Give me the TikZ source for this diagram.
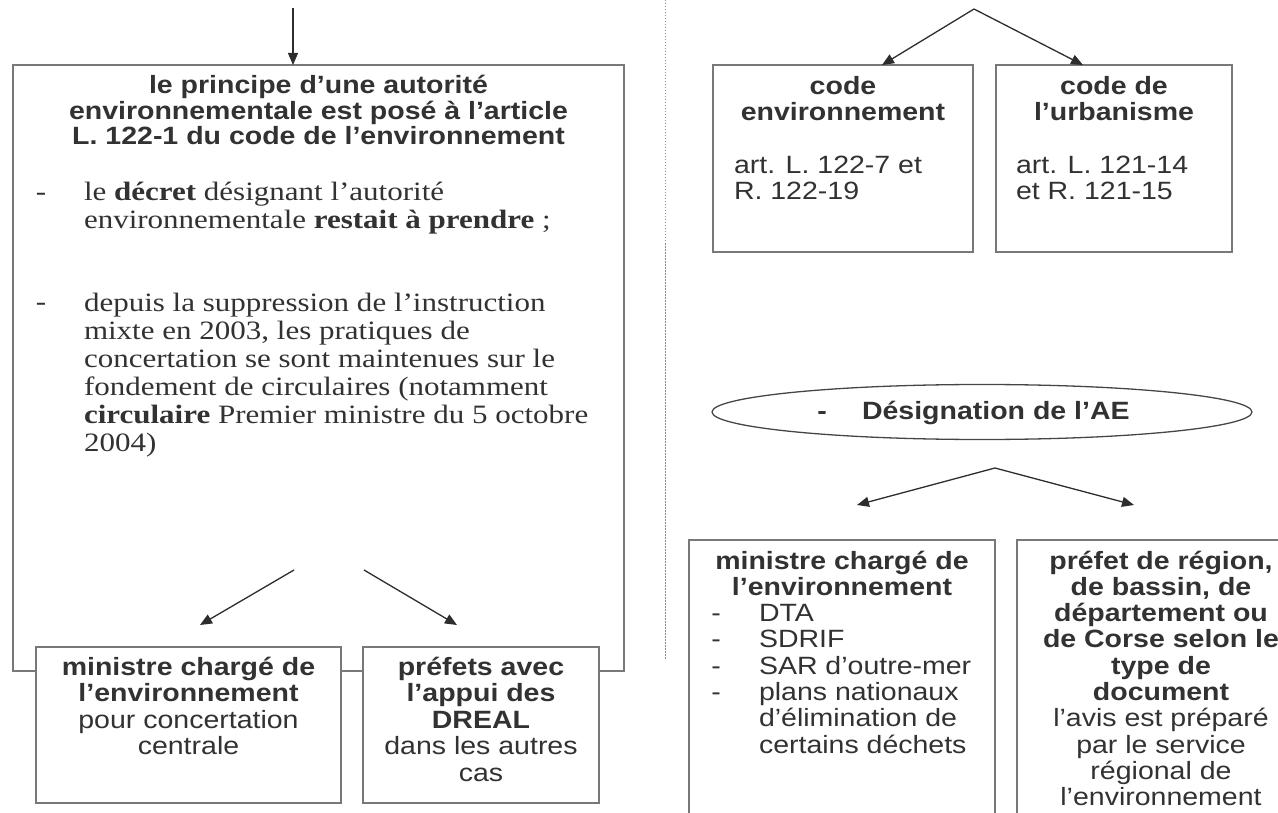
\documentclass[tikz,border=0pt]{standalone}
\usepackage{fontspec}
\setmainfont{Liberation Serif}[FakeStretch=1.17]
\setsansfont{Liberation Sans}[FakeStretch=1.14]
\usetikzlibrary{arrows.meta,shapes.geometric}
\definecolor{txt}{RGB}{50,50,50}
\definecolor{boxc}{RGB}{120,120,120}
\definecolor{arrc}{RGB}{45,45,45}
\definecolor{ellc}{RGB}{70,70,70}
\definecolor{divc}{RGB}{140,140,140}
\newcommand{\myst}{\rule{0pt}{20pt}}
\begin{document}
\begin{tikzpicture}[x=1pt,y=-1pt,
  every node/.style={inner sep=0pt, outer sep=0pt, text=txt},
  boxst/.style={draw=boxc, line width=1.7pt, fill=white, rectangle, anchor=north west},
  arr/.style={draw=arrc, line width=1.3pt, -{Triangle[length=12pt,width=10pt]}},
  hd/.style={font=\sffamily\bfseries\fontsize{25}{25.5}\selectfont, align=center, anchor=north},
  sfc/.style={font=\sffamily\fontsize{25}{26.5}\selectfont, align=center, anchor=north},
  sfr/.style={font=\sffamily\fontsize{25}{26.3}\selectfont, align=center, anchor=north},
  sfl/.style={font=\sffamily\fontsize{25}{26}\selectfont, align=left, anchor=north west},
  sfb/.style={font=\sffamily\bfseries\fontsize{25}{25.5}\selectfont, align=center, anchor=north},
  serif/.style={font=\rmfamily\fontsize{26.5}{28}\selectfont, align=left, anchor=north west},
  divider/.style={draw=divc, line width=1pt, dash pattern=on 1.5pt off 1.5pt}]
\useasboundingbox (0,0) rectangle (1278,813);

% ---------- left part ----------
\node[boxst, minimum width=611pt, minimum height=606pt] (big) at (13,65) {};
\coordinate (topL) at (293,8);
\draw[arr] (topL) -- (topL |- big.north);

\node[hd] (head) at (318.5,74) {\myst le principe d’une autorité\\environnementale est posé à l’article\\L. 122-1 du code de l’environnement};

\node[serif] (b1) at (84,181) {\myst le \textbf{décret} désignant l’autorité\\environnementale \textbf{restait à prendre} ;};
\node[serif, anchor=base] (d1) at (41,201) {-};
\node[serif] (b2) at (84,291) {\myst depuis la suppression de l’instruction\\mixte en 2003, les pratiques de\\concertation se sont maintenues sur le\\fondement de circulaires (notamment\\\textbf{circulaire} Premier ministre du 5 octobre\\2004)};
\node[serif, anchor=base] (d2) at (41,311) {-};

\coordinate (s1) at (294,570); \coordinate (e1) at (200,625);
\coordinate (s2) at (364,570); \coordinate (e2) at (457,625);
\draw[arr] (s1) -- (e1);
\draw[arr] (s2) -- (e2);

\node[boxst, minimum width=305pt, minimum height=156pt] (m1) at (36,647) {};
\node[boxst, minimum width=236pt, minimum height=156pt] (p1) at (363,647) {};
\node[sfc] (m1t) at (188.5,655) {\myst\textbf{ministre chargé de}\\\textbf{l’environnement}\\pour concertation\\centrale};
\node[sfc] (p1t) at (481,655) {\myst\textbf{préfets avec}\\\textbf{l’appui des}\\\textbf{DREAL}\\dans les autres\\cas};

% ---------- divider ----------
\coordinate (dvT) at (665,0); \coordinate (dvB) at (665,660);
\draw[divider] (dvT) -- (dvB);

% ---------- right top ----------
\node[boxst, minimum width=260pt, minimum height=187pt] (ce) at (713,65) {};
\node[boxst, minimum width=236pt, minimum height=187pt] (cu) at (996,65) {};
\coordinate (apex1) at (974,9);
\coordinate (ceA) at (882,65); \coordinate (cuA) at (1083,65);
\draw[arr] (apex1) -- (ceA);
\draw[arr] (apex1) -- (cuA);
\node[sfb] (cet) at (843,75) {\myst code\\environnement};
\node[sfl] (cea) at (734,154) {\myst art. L. 122-7 et\\R. 122-19};
\node[sfb] (cut) at (1114,75) {\myst code de\\l’urbanisme};
\node[sfl] (cua) at (1016,154) {\myst art. L. 121-14\\et R. 121-15};

% ---------- ellipse ----------
\node[ellipse, draw=ellc, line width=1.3pt, minimum width=540pt, minimum height=55pt] (ae) at (982,412) {};
\node[font=\sffamily\bfseries\fontsize{25}{26}\selectfont, anchor=base] (aed) at (822,419) {-};
\node[font=\sffamily\bfseries\fontsize{25}{26}\selectfont, anchor=base west] (aet) at (862,419) {Désignation de l’AE};

\coordinate (apex2) at (995,468);
\coordinate (mrA) at (857,505); \coordinate (prA) at (1134,505);
\draw[arr] (apex2) -- (mrA);
\draw[arr] (apex2) -- (prA);

% ---------- right bottom ----------
\node[boxst, minimum width=306pt, minimum height=300pt] (mr) at (689,540) {};
\node[boxst, minimum width=290pt, minimum height=300pt] (pr) at (1017,540) {};
\node[sfr] (mrt) at (842,549) {\myst\textbf{ministre chargé de}\\\textbf{l’environnement}};
\node[font=\sffamily\fontsize{25}{26.3}\selectfont, align=left, anchor=north west] (mrl) at (759,601.6) {\myst DTA\\SDRIF\\SAR d’outre-mer\\plans nationaux\\d’élimination de\\certains déchets};
\node[font=\sffamily\fontsize{25}{26.3}\selectfont, align=center, anchor=north] (mrd) at (716,601.6) {\myst -\\-\\-\\-};
\node[sfr] (prt) at (1161,549) {\myst\textbf{préfet de région,}\\\textbf{de bassin, de}\\\textbf{département ou}\\\textbf{de Corse selon le}\\\textbf{type de}\\\textbf{document}\\l’avis est préparé\\par le service\\régional de\\l’environnement};
\end{tikzpicture}
\end{document}
